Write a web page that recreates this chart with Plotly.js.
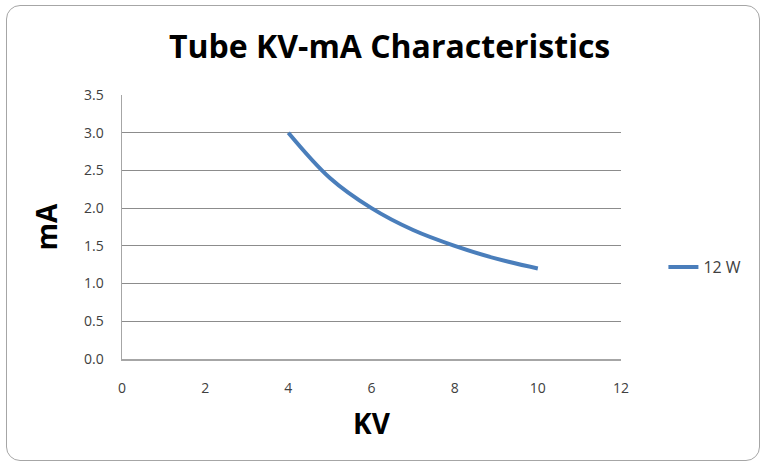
<!DOCTYPE html>
<html>
<head>
<meta charset="utf-8">
<script src="https://cdn.plot.ly/plotly-3.0.1.min.js"></script>
<style>
  html, body { margin: 0; padding: 0; background: #fff; }
  #wrap { position: relative; width: 764px; height: 466px; }
  #chart { width: 764px; height: 466px; }
  #frame { position: absolute; left: 6px; top: 5px; width: 754px; height: 456px;
           border: 1.5px solid #a6a6a6; border-radius: 14px; pointer-events: none; box-sizing: border-box; }
</style>
</head>
<body>
<div id="wrap">
  <div id="chart"></div>
  <div id="frame"></div>
</div>
<script>
const kv = [4, 5, 6, 7, 8, 9, 10];
const mA = [3.0, 2.4, 2.0, 1.71, 1.5, 1.33, 1.2];
const seriesName = '12 W';
const chartTitle = 'Tube KV-mA Characteristics';
const xTitle = 'KV';
const yTitle = 'mA';
const yTicks = [0, 0.5, 1, 1.5, 2, 2.5, 3, 3.5];
const xTicks = [0, 2, 4, 6, 8, 10, 12];

const font = 'Open Sans, Noto Sans, sans-serif';

Plotly.newPlot('chart', [{
  x: kv, y: mA, name: seriesName, type: 'scatter', mode: 'lines',
  line: { color: '#4A7EBB', width: 4, shape: 'spline' }
}], {
  width: 764, height: 466,
  margin: { l: 122, r: 143, t: 95, b: 107 },
  paper_bgcolor: '#fff', plot_bgcolor: '#fff',
  showlegend: true,
  title: { text: '<b>' + chartTitle + '</b>', font: { family: font, size: 32, color: '#000' },
           x: 0.51, xanchor: 'center', y: 0.9, yanchor: 'middle' },
  xaxis: {
    range: [0, 12], tickvals: xTicks, ticktext: xTicks.map(String),
    showgrid: false, zeroline: false, showline: true, linecolor: '#a6a6a6', linewidth: 1.5,
    ticks: '', ticklabelstandoff: 16,
    tickfont: { family: font, size: 14, color: '#404040' },
    title: { text: '<b>' + xTitle + '</b>', font: { family: font, size: 28, color: '#000' }, standoff: 18 },
    automargin: false, fixedrange: true
  },
  yaxis: {
    range: [0, 3.5], tickvals: yTicks, ticktext: yTicks.map(v => v.toFixed(1)),
    showgrid: true, gridcolor: '#8c8c8c', gridwidth: 1,
    zeroline: false, showline: true, linecolor: '#a6a6a6', linewidth: 1.5,
    ticks: '', ticklabelstandoff: 14,
    tickfont: { family: font, size: 14, color: '#404040' },
    title: { text: '<b>' + yTitle + '</b>', font: { family: font, size: 28, color: '#000' }, standoff: 18 },
    automargin: false, fixedrange: true
  },
  legend: { x: 1.085, xanchor: 'left', y: 0.348, yanchor: 'middle',
            font: { family: font, size: 16, color: '#404040' }, bgcolor: 'rgba(0,0,0,0)' }
}, { displayModeBar: false, staticPlot: true });
</script>
</body>
</html>
